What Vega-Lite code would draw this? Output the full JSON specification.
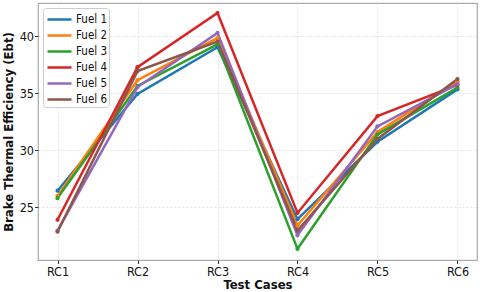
{
  "$schema": "https://vega.github.io/schema/vega-lite/v6.json",
  "width": 439,
  "height": 257,
  "autosize": {"type": "none"},
  "padding": {"left": 38, "top": 3, "right": 3, "bottom": 32},
  "background": "white",
  "config": {
    "font": "DejaVu Sans Condensed",
    "view": {"stroke": "#aaaaaa", "strokeWidth": 1.2},
    "axis": {"domain": false, "tickColor": "#333", "tickSize": 3.5, "labelFont": "DejaVu Sans Condensed", "labelFontSize": 12.5, "labelColor": "#111", "titleFont": "DejaVu Sans Condensed", "titleFontSize": 13, "titleFontWeight": "bold", "titleColor": "#111", "gridColor": "#dddddd", "gridDash": [2, 2], "gridWidth": 0.8},
    "legend": {"labelFont": "DejaVu Sans Condensed"}
  },
  "data": {
    "values": [
      {"case": "RC1", "fuel": "Fuel 1", "ebt": 26.45},
      {"case": "RC2", "fuel": "Fuel 1", "ebt": 34.95},
      {"case": "RC3", "fuel": "Fuel 1", "ebt": 39.05},
      {"case": "RC4", "fuel": "Fuel 1", "ebt": 23.95},
      {"case": "RC5", "fuel": "Fuel 1", "ebt": 30.75},
      {"case": "RC6", "fuel": "Fuel 1", "ebt": 35.35},
      {"case": "RC1", "fuel": "Fuel 2", "ebt": 26.0},
      {"case": "RC2", "fuel": "Fuel 2", "ebt": 36.15},
      {"case": "RC3", "fuel": "Fuel 2", "ebt": 39.85},
      {"case": "RC4", "fuel": "Fuel 2", "ebt": 23.4},
      {"case": "RC5", "fuel": "Fuel 2", "ebt": 31.6},
      {"case": "RC6", "fuel": "Fuel 2", "ebt": 36.05},
      {"case": "RC1", "fuel": "Fuel 3", "ebt": 25.8},
      {"case": "RC2", "fuel": "Fuel 3", "ebt": 35.65},
      {"case": "RC3", "fuel": "Fuel 3", "ebt": 39.3},
      {"case": "RC4", "fuel": "Fuel 3", "ebt": 21.35},
      {"case": "RC5", "fuel": "Fuel 3", "ebt": 31.4},
      {"case": "RC6", "fuel": "Fuel 3", "ebt": 35.5},
      {"case": "RC1", "fuel": "Fuel 4", "ebt": 23.9},
      {"case": "RC2", "fuel": "Fuel 4", "ebt": 37.3},
      {"case": "RC3", "fuel": "Fuel 4", "ebt": 42.05},
      {"case": "RC4", "fuel": "Fuel 4", "ebt": 24.5},
      {"case": "RC5", "fuel": "Fuel 4", "ebt": 33.0},
      {"case": "RC6", "fuel": "Fuel 4", "ebt": 35.75},
      {"case": "RC1", "fuel": "Fuel 5", "ebt": 22.95},
      {"case": "RC2", "fuel": "Fuel 5", "ebt": 35.55},
      {"case": "RC3", "fuel": "Fuel 5", "ebt": 40.3},
      {"case": "RC4", "fuel": "Fuel 5", "ebt": 22.55},
      {"case": "RC5", "fuel": "Fuel 5", "ebt": 32.1},
      {"case": "RC6", "fuel": "Fuel 5", "ebt": 35.8},
      {"case": "RC1", "fuel": "Fuel 6", "ebt": 22.85},
      {"case": "RC2", "fuel": "Fuel 6", "ebt": 36.95},
      {"case": "RC3", "fuel": "Fuel 6", "ebt": 39.55},
      {"case": "RC4", "fuel": "Fuel 6", "ebt": 22.95},
      {"case": "RC5", "fuel": "Fuel 6", "ebt": 31.0},
      {"case": "RC6", "fuel": "Fuel 6", "ebt": 36.25}
    ]
  },
  "mark": {"type": "line", "strokeWidth": 2.5, "point": {"filled": true, "size": 18}},
  "encoding": {
    "x": {
      "field": "case", "type": "nominal", "title": "Test Cases",
      "scale": {"type": "point", "padding": 0.244},
      "axis": {"labelAngle": 0, "grid": true, "labelPadding": 1.5, "titlePadding": 1}
    },
    "y": {
      "field": "ebt", "type": "quantitative", "title": "Brake Thermal Efficiency (Ebt)",
      "scale": {"domain": [20.37, 42.93], "nice": false, "zero": false},
      "axis": {"values": [25, 30, 35, 40], "grid": true, "labelPadding": 1, "titlePadding": 4}
    },
    "color": {
      "field": "fuel", "type": "nominal", "title": null,
      "scale": {"range": ["#1f77b4", "#ff7f0e", "#2ca02c", "#d62728", "#9467bd", "#8c564b"]},
      "legend": {
        "orient": "none", "legendX": 5, "legendY": 5,
        "symbolType": "M-1.5,0L1.5,0", "symbolSize": 256, "symbolStrokeWidth": 2.5, "symbolOffset": 5,
        "labelFontSize": 11.5, "labelColor": "#111", "labelOffset": 7, "rowPadding": 1,
        "strokeColor": "#cccccc", "fillColor": "white", "padding": 2, "cornerRadius": 3
      }
    },
    "order": {"field": "case"}
  }
}
